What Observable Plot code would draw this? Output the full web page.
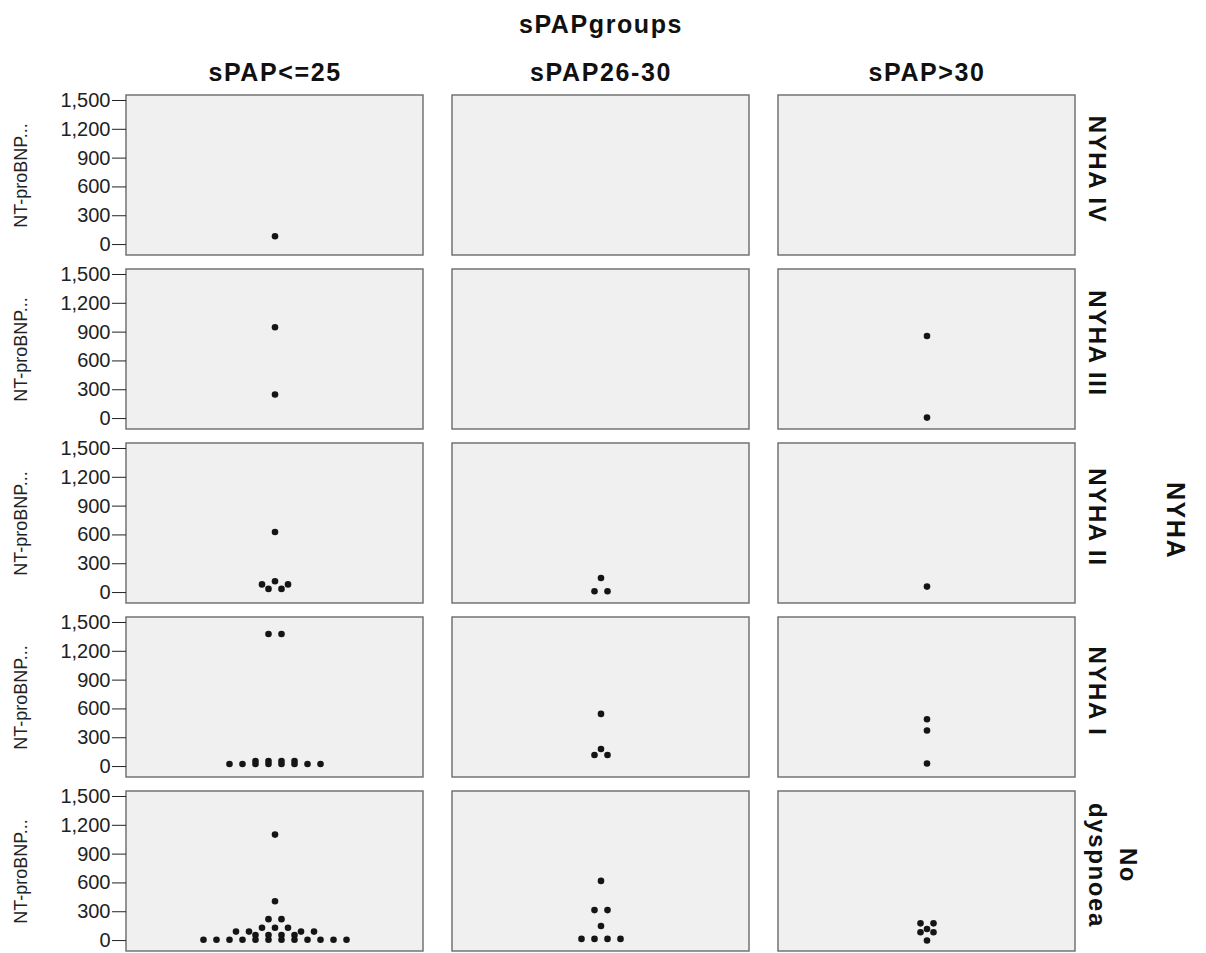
<!DOCTYPE html>
<html>
<head>
<meta charset="utf-8">
<script src="https://cdn.jsdelivr.net/npm/d3@7"></script>
<script src="https://cdn.jsdelivr.net/npm/@observablehq/plot@0.6"></script>
<style>
  html, body { margin: 0; padding: 0; background: #ffffff; }
  g[font-weight="bold"] text { letter-spacing: 1.6px; }
</style>
</head>
<body>
<div id="chart"></div>
<script>
// Facet categories
const sPAPgroups = ["sPAP<=25", "sPAP26-30", "sPAP>30"];
const nyhaGroups = ["NYHA IV", "NYHA III", "NYHA II", "NYHA I", "No dyspnoea"];
const nyhaLabels = ["NYHA IV", "NYHA III", "NYHA II", "NYHA I", "No\ndyspnoea"];
const yTicks = [0, 300, 600, 900, 1200, 1500];
const yLabel = "NT-proBNP...";

// NT-proBNP values per NYHA row, one entry per sPAP group;
// each inner array is one dot-plot bin (dots stacked side by side)
const binsNyhaIV = [[[86]], [], []];
const binsNyhaIII = [[[950], [250]], [], [[860], [10]]];
const binsNyhaII = [[[630], [85, 117, 85], [38, 38]], [[152], [13, 13]], [[62]]];
const binsNyhaI = [
  [[1380, 1380], [58, 58, 58, 58], [26, 26, 26, 26, 26, 26, 26, 26]],
  [[548], [183], [121, 121]],
  [[493], [375], [31]]
];
const binsNoDyspnoea = [
  [[1103], [410], [223, 223], [93, 93, 134, 134, 134, 93, 93], [58, 58, 58, 58],
   [8, 8, 8, 8, 8, 8, 8, 8, 8, 8, 8, 8]],
  [[621], [317, 317], [151], [17, 17, 17, 17]],
  [[179, 179], [120], [86, 86], [0]]
];

const binsByRow = [binsNyhaIV, binsNyhaIII, binsNyhaII, binsNyhaI, binsNoDyspnoea];

// Build a tidy table: offset = position of the dot within its stack
const dots = [];
binsByRow.forEach((row, ri) => {
  row.forEach((bins, ci) => {
    bins.forEach(bin => {
      bin.forEach((v, i) => {
        dots.push({nyha: nyhaGroups[ri], sPAP: sPAPgroups[ci], value: v, offset: i - (bin.length - 1) / 2});
      });
    });
  });
});
const cells = nyhaGroups.flatMap(n => sPAPgroups.map(s => ({nyha: n, sPAP: s})));

const FONT = "'Liberation Sans', Arial, sans-serif";
const stepsHalf = 11.42; // half panel width measured in dot-stack steps

const chart = Plot.plot({
  width: 1206,
  height: 953,
  marginLeft: 126,
  marginRight: 131,
  marginTop: 93,
  marginBottom: 0,
  style: {fontFamily: FONT, background: "#ffffff", color: "#111"},
  fx: {domain: sPAPgroups, paddingInner: 0.089, paddingOuter: 0, axis: null},
  fy: {domain: nyhaGroups, paddingInner: 0.079, paddingOuter: 0, axis: null},
  x: {domain: [-stepsHalf, stepsHalf], axis: null},
  y: {domain: [-114, 1552], axis: null},
  marks: [
    Plot.rect(cells, {fx: "sPAP", fy: "nyha", fill: "#f0f0f0", stroke: "#6a6a6a", strokeWidth: 1.4}),
    Plot.axisY({ticks: yTicks, tickFormat: d3.format(",d"), tickSize: 14, tickPadding: 2, fontSize: 20, label: null, anchor: "left", stroke: "#222", color: "#222"}),
    Plot.text(nyhaGroups, {fx: () => sPAPgroups[0], fy: d => d, text: () => yLabel, frameAnchor: "left", textAnchor: "middle", rotate: -90, dx: -105, fontSize: 18, fill: "#222"}),
    Plot.dot(dots, {x: "offset", y: "value", fx: "sPAP", fy: "nyha", r: 3.3, fill: "#151515"}),
    Plot.text(sPAPgroups, {fx: d => d, fy: () => nyhaGroups[0], text: d => d, frameAnchor: "top", textAnchor: "middle", lineAnchor: "bottom", dy: -15, fontSize: 25, fontWeight: "bold"}),
    Plot.text(["sPAPgroups"], {fx: () => sPAPgroups[1], fy: () => nyhaGroups[0], text: d => d, frameAnchor: "top", textAnchor: "middle", lineAnchor: "bottom", dy: -63, fontSize: 25, fontWeight: "bold"}),
    Plot.text(nyhaGroups, {fx: () => sPAPgroups[2], fy: d => d, text: (d, i) => nyhaLabels[i], frameAnchor: "right", textAnchor: "middle", rotate: 90, lineAnchor: "bottom", lineHeight: 1.3, dx: 13, dy: -6, fontSize: 24, fontWeight: "bold"}),
    Plot.text(["NYHA"], {fx: () => sPAPgroups[2], fy: () => nyhaGroups[2], text: d => d, frameAnchor: "right", textAnchor: "middle", rotate: 90, lineAnchor: "bottom", dx: 91, dy: -3, fontSize: 25, fontWeight: "bold"})
  ]
});
document.getElementById("chart").appendChild(chart);
</script>
</body>
</html>
